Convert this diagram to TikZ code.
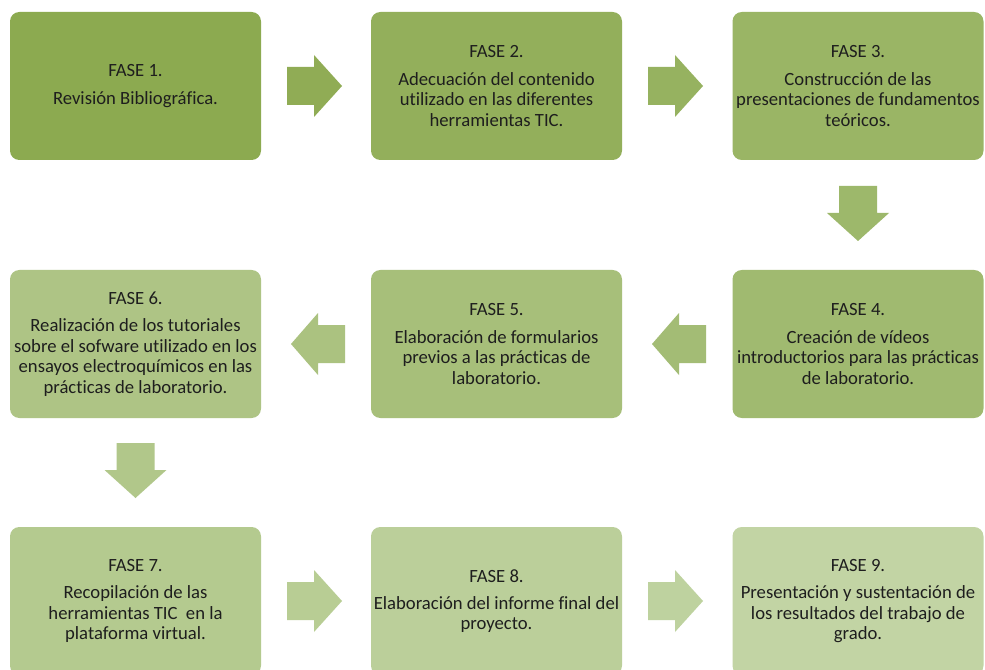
\documentclass[tikz,border=0pt]{standalone}
\usepackage{fontspec}
\setmainfont[Ligatures={NoCommon}]{Carlito}
\definecolor{b1}{RGB}{140,170,80}
\definecolor{b2}{RGB}{147,175,91}
\definecolor{b3}{RGB}{154,181,101}
\definecolor{b4}{RGB}{160,186,112}
\definecolor{b5}{RGB}{167,191,122}
\definecolor{b6}{RGB}{174,196,133}
\definecolor{b7}{RGB}{180,202,143}
\definecolor{b8}{RGB}{187,207,154}
\definecolor{b9}{RGB}{194,212,164}
\definecolor{txt}{RGB}{30,30,30}
\tikzset{
  fase/.style={rounded corners=7pt, minimum width=188.25pt, minimum height=111pt,
    align=center, text=txt, inner sep=2pt,
    font=\fontsize{14pt}{15.4pt}\selectfont},
}
\newcommand{\rarr}[3]{\fill[#3] (#1,#2-19) -- (#1+27,#2-19) -- (#1+27,#2-31) -- (#1+55,#2) -- (#1+27,#2+31) -- (#1+27,#2+19) -- (#1,#2+19) -- cycle;}
\newcommand{\larr}[3]{\fill[#3] (#1,#2-19) -- (#1-27,#2-19) -- (#1-27,#2-31) -- (#1-54,#2) -- (#1-27,#2+31) -- (#1-27,#2+19) -- (#1,#2+19) -- cycle;}
\newcommand{\darr}[3]{\fill[#3] (#1-19,#2) -- (#1+19,#2) -- (#1+19,#2+27) -- (#1+31,#2+27) -- (#1,#2+55) -- (#1-31,#2+27) -- (#1-19,#2+27) -- cycle;}
\begin{document}
\begin{tikzpicture}[x=0.75pt,y=-0.75pt]
\useasboundingbox (0,0) rectangle (985,670);
\clip (0,0) rectangle (985,670);
\fill[white] (0,0) rectangle (985,670);
\node[fase, fill=b1] (f1) at (135.5,86) {FASE 1.\\[5pt]Revisión Bibliográfica.};
\node[fase, fill=b2] (f2) at (496.5,86) {FASE 2.\\[5pt]Adecuación del contenido\\utilizado en las diferentes\\herramientas TIC.};
\node[fase, fill=b3] (f3) at (858,86) {FASE 3.\\[5pt]Construcción de las\\presentaciones de fundamentos\\teóricos.};
\node[fase, fill=b4] (f4) at (858,344) {FASE 4.\\[5pt]Creación de vídeos\\introductorios para las prácticas\\de laboratorio.};
\node[fase, fill=b5] (f5) at (496.5,344) {FASE 5.\\[5pt]Elaboración de formularios\\previos a las prácticas de\\laboratorio.};
\node[fase, fill=b6] (f6) at (135.5,344) {FASE 6.\\[5pt]Realización de los tutoriales\\sobre el sofware utilizado en los\\ensayos electroquímicos en las\\prácticas de laboratorio.};
\node[fase, fill=b7] (f7) at (135.5,601) {FASE 7.\\[5pt]Recopilación de las\\herramientas TIC \ en la\\plataforma virtual.};
\node[fase, fill=b8] (f8) at (496.5,601) {FASE 8.\\[5pt]Elaboración del informe final del\\proyecto.};
\node[fase, fill=b9] (f9) at (858,601) {FASE 9.\\[5pt]Presentación y sustentación de\\los resultados del trabajo de\\grado.};
\rarr{287}{86}{b1!50!b2}
\rarr{648}{86}{b2!50!b3}
\darr{858}{186}{b3!50!b4}
\larr{706}{344}{b4!50!b5}
\larr{345}{344}{b5!50!b6}
\darr{135.5}{443}{b6!50!b7}
\rarr{287}{601}{b7!50!b8}
\rarr{648}{601}{b8!50!b9}
\end{tikzpicture}
\end{document}
